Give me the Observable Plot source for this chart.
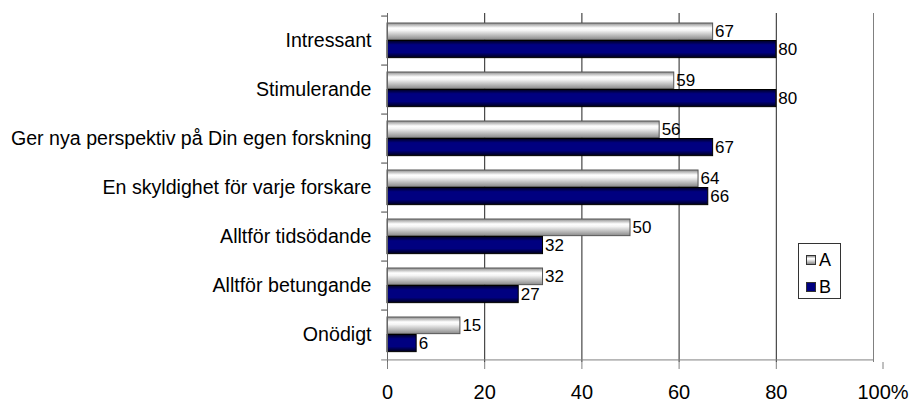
<!DOCTYPE html>
<html><head><meta charset="utf-8">
<script src="https://cdn.jsdelivr.net/npm/d3@7"></script>
<script src="https://cdn.jsdelivr.net/npm/@observablehq/plot@0.6"></script>
<style>
body{margin:0;background:#fff;font-family:"Liberation Sans",Arial,sans-serif;}
#wrap{position:relative;width:911px;height:402px;overflow:hidden;}
#legend{position:absolute;left:798px;top:243px;width:43px;height:56px;border:1px solid #333;box-sizing:border-box;background:#fff;}
.item{position:absolute;left:7px;height:20px;line-height:20px;font-size:18px;color:#000;}
.sw{position:absolute;left:0;top:5px;width:10px;height:10px;box-sizing:border-box;border:1px solid #333;}
.lab{position:absolute;left:13px;top:0;}
</style></head><body><div id="wrap"></div>
<script>
const categories = ["Intressant","Stimulerande","Ger nya perspektiv på Din egen forskning","En skyldighet för varje forskare","Alltför tidsödande","Alltför betungande","Onödigt"];
const seriesA = [67,59,56,64,50,32,15];
const seriesB = [80,80,67,66,32,27,6];
const seriesNames = ["A","B"];
const xTicks = [0,20,40,60,80,100];

const W = 911, H = 402, mT = 13, mB = 40, mL = 387, mR = 38;
const band = (H - mT - mB) / categories.length;
const idx = d3.range(categories.length);

const plot = Plot.plot({
  width: W, height: H,
  marginTop: mT, marginBottom: mB, marginLeft: mL, marginRight: mR,
  style: {fontFamily: '"Liberation Sans", Arial, sans-serif', background: "#fff", color: "#000"},
  x: {domain: [0, 100], axis: null},
  y: {type: "band", domain: categories, padding: 0, axis: null},
  marks: [
    Plot.ruleX(xTicks.filter(v => v > 0 && v < 100), {stroke: "#222", strokeWidth: 1}),
    Plot.ruleX([100], {stroke: "#808080"}),
    Plot.barX(idx, {x: i => seriesA[i], y: i => categories[i], fill: "url(#gradA)", stroke: "#555", strokeWidth: 1, insetTop: 7, insetBottom: band - 7 - 17.5}),
    Plot.barX(idx, {x: i => seriesB[i], y: i => categories[i], fill: "url(#gradB)", stroke: "#000", strokeWidth: 1, insetTop: 24.5, insetBottom: band - 24.5 - 18}),
    Plot.ruleX([0], {stroke: "#666"}),
    Plot.ruleY(categories, {y: d => d, x1: -1.2, x2: 0, dy: -band / 2, stroke: "#444"}),
    Plot.ruleY([categories[categories.length - 1]], {y: d => d, x1: -1.2, x2: 100, dy: band / 2, stroke: "#808080"}),
    Plot.text(idx, {x: i => seriesA[i], y: i => categories[i], text: i => String(seriesA[i]), dx: 2, dy: -9, textAnchor: "start", fontSize: 17, fill: "#000"}),
    Plot.text(idx, {x: i => seriesB[i], y: i => categories[i], text: i => String(seriesB[i]), dx: 2, dy: 8.5, textAnchor: "start", fontSize: 17, fill: "#000"}),
    Plot.axisY({tickSize: 0, tickPadding: 16, fontSize: 19.6, label: null, fill: "#000"}),
    Plot.axisX(xTicks.slice(0, 5), {tickSize: 7, tickPadding: 15.5, fontSize: 20, label: null, stroke: "#808080", fill: "#000", tickFormat: d => String(d)}),
    Plot.axisX([100], {tickSize: 7, tickPadding: 15.5, fontSize: 20, label: null, stroke: "#808080", fill: "#000", tickFormat: d => d + "%", dx: 9.5})
  ]
});

const svg = d3.select(plot);
const defs = svg.insert("defs", ":first-child");
const gA = defs.append("linearGradient").attr("id", "gradA").attr("x1", 0).attr("y1", 0).attr("x2", 0).attr("y2", 1);
[[0, "#8c8c8c"], [0.3, "#ffffff"], [0.45, "#f4f4f4"], [1, "#8a8a8a"]].forEach(([o, c]) => gA.append("stop").attr("offset", o).attr("stop-color", c));
const gB = defs.append("linearGradient").attr("id", "gradB").attr("x1", 0).attr("y1", 0).attr("x2", 0).attr("y2", 1);
[[0, "#000020"], [0.25, "#000080"], [0.7, "#000080"], [1, "#000018"]].forEach(([o, c]) => gB.append("stop").attr("offset", o).attr("stop-color", c));

const wrap = document.getElementById("wrap");
wrap.appendChild(plot);

const legend = document.createElement("div");
legend.id = "legend";
const swatchFill = ["linear-gradient(#8c8c8c, #ffffff 30%, #f4f4f4 45%, #8a8a8a)", "#000080"];
seriesNames.forEach((name, k) => {
  const it = document.createElement("div");
  it.className = "item";
  it.style.top = (k === 0 ? 6 : 33) + "px";
  const sw = document.createElement("div");
  sw.className = "sw";
  sw.style.background = swatchFill[k];
  const lb = document.createElement("span");
  lb.className = "lab";
  lb.textContent = name;
  it.appendChild(sw); it.appendChild(lb);
  legend.appendChild(it);
});
wrap.appendChild(legend);
</script>
</body></html>
